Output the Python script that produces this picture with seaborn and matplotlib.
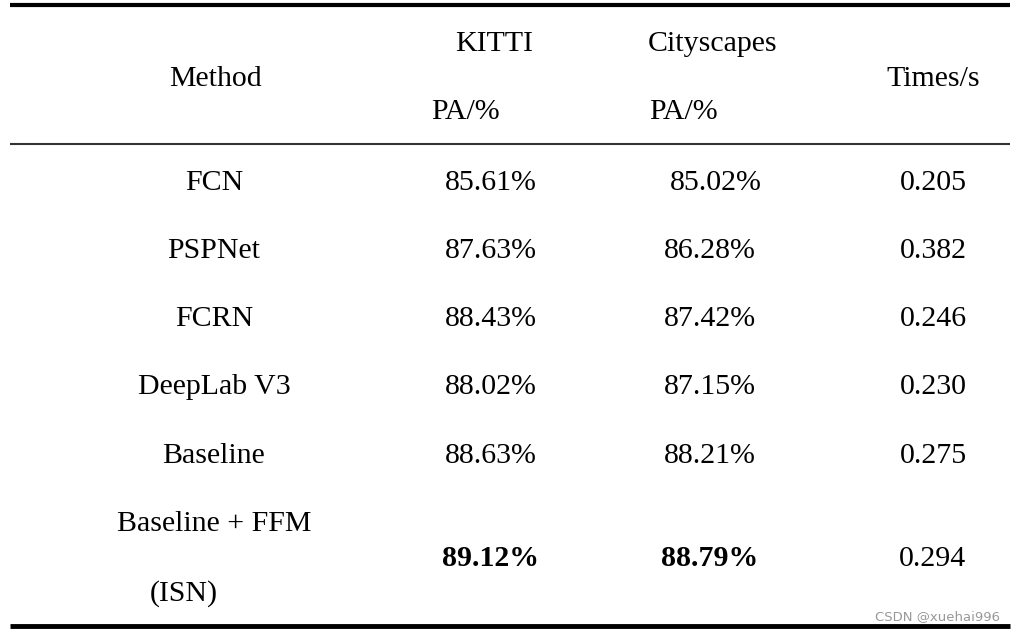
import matplotlib
matplotlib.use("Agg")
import matplotlib.pyplot as plt
import seaborn as sns

sns.set_style('white')
plt.rcParams['font.family'] = ['Liberation Serif', 'DejaVu Serif']
plt.rcParams['text.color'] = 'black'

methods = ['FCN', 'PSPNet', 'FCRN', 'DeepLab V3', 'Baseline', 'Baseline + FFM\n\n(ISN)']
kitti_pa = [85.61, 87.63, 88.43, 88.02, 88.63, 89.12]
city_pa = [85.02, 86.28, 87.42, 87.15, 88.21, 88.79]
times = [0.205, 0.382, 0.246, 0.230, 0.275, 0.294]
best = 5  # row shown in bold

fig = plt.figure(figsize=(10.15, 6.32), dpi=100)
ax = fig.add_axes([0, 0, 1, 1])
ax.set_xlim(0, 1015)
ax.set_ylim(632, 0)
ax.axis('off')

fs = 21.5
dy = 2  # va='center' sits a touch high
# header
ax.text(215, 77 + dy, 'Method', ha='center', va='center', fontsize=fs)
ax.text(494, 42 + dy, 'KITTI', ha='center', va='center', fontsize=fs)
ax.text(465, 110 + dy, 'PA/%', ha='center', va='center', fontsize=fs)
ax.text(713, 42 + dy, 'Cityscapes', ha='center', va='center', fontsize=fs)
ax.text(683, 110 + dy, 'PA/%', ha='center', va='center', fontsize=fs)
ax.text(933, 77 + dy, 'Times/s', ha='center', va='center', fontsize=fs)

# rules
ax.hlines(5, 10, 1010, color='black', lw=3)
ax.hlines(144, 10, 1010, color='#333333', lw=1.5)
ax.hlines(626, 10, 1010, color='black', lw=3.5)

row_y = [181, 249, 317, 385, 454, 557]
city_x = [716, 710, 710, 710, 710, 710]
for i, m in enumerate(methods):
    y = row_y[i] + dy
    if i == best:
        ax.text(214, 522 + dy, 'Baseline + FFM', ha='center', va='center', fontsize=fs)
        ax.text(184, 592 + dy, '(ISN)', ha='center', va='center', fontsize=fs)
    else:
        ax.text(214, y, m, ha='center', va='center', fontsize=fs)
    w = 'bold' if i == best else 'normal'
    ax.text(491, y, f'{kitti_pa[i]:.2f}%', ha='center', va='center', fontsize=fs, weight=w)
    ax.text(city_x[i], y, f'{city_pa[i]:.2f}%', ha='center', va='center', fontsize=fs, weight=w)
    ax.text(933, y, f'{times[i]:.3f}', ha='center', va='center', fontsize=fs)

ax.text(1000, 617, 'CSDN @xuehai996', ha='right', va='center', fontsize=9.5,
        color='#999999', family='DejaVu Sans')

fig.savefig('out.png', dpi=100)
